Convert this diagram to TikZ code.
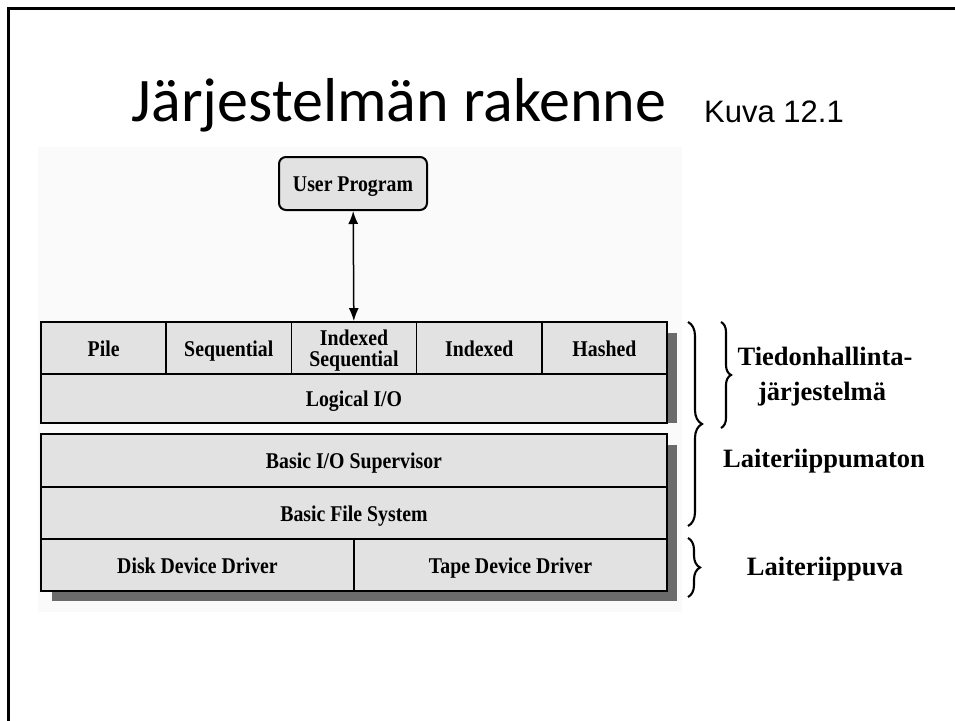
\documentclass[tikz,border=0pt]{standalone}
\usepackage{fontspec}
\setmainfont{Liberation Serif}
\newfontfamily\titlefont{Carlito}
\newfontfamily\kuvafont{Liberation Sans}
\newfontfamily\cellfont{Liberation Serif}[FakeStretch=0.88]
\usetikzlibrary{arrows.meta,decorations.pathreplacing}

\definecolor{boxgray}{HTML}{E2E2E2}
\definecolor{shadowgray}{HTML}{6B6B6B}

\tikzset{
  cell/.style={draw=black, line width=1.7pt, fill=boxgray, inner sep=0pt,
    minimum height=#1, align=center, text height=18pt, text depth=2pt,
    font=\cellfont\bfseries\fontsize{22.5}{21}\selectfont},
  userbox/.style={cell=53pt, minimum width=148pt, rounded corners=7pt, line width=2pt},
  brace/.style={decorate, decoration={brace, amplitude=#1}, line width=2.1pt},
  sidelabel/.style={anchor=base, font=\bfseries\fontsize{26.5}{28}\selectfont}
}

\begin{document}
\begin{tikzpicture}[x=1pt,y=-1pt]
\useasboundingbox (0,0) rectangle (955,720);
% slide frame
\draw[line width=3pt] (8.5,730) -- (8.5,8.5) -- (965,8.5);
\fill[black!2] (38,147) rectangle (682,612);

\node[anchor=base, font=\titlefont\fontsize{62}{62}\selectfont] (title) at (399,121) {Järjestelmän rakenne};
\node[anchor=base, font=\kuvafont\fontsize{31}{31}\selectfont] (kuva) at (774,122) {Kuva 12.1};

\node[userbox] (user) at (353,183.5) {User Program};

% shadows
\fill[shadowgray] (52,333) rectangle (677,423);
\fill[shadowgray] (52,445) rectangle (677,601);

% file management
\node[cell=52pt, minimum width=125.2pt] (pile) at (103.6,348) {Pile};
\node[cell=52pt, minimum width=125.2pt] (seq) at (228.8,348) {Sequential};
\node[cell=52pt, minimum width=125.2pt, text height=38pt, text depth=2pt] (iseq) at (354,348) {Indexed\\Sequential};
\node[cell=52pt, minimum width=125.2pt] (idx) at (479.2,348) {Indexed};
\node[cell=52pt, minimum width=125.2pt] (hash) at (604.4,348) {Hashed};
\node[cell=49pt, minimum width=626pt] (lio) at (354,398.5) {Logical I/O};

% device independent
\node[cell=53pt, minimum width=626pt] (bios) at (354,460.5) {Basic I/O Supervisor};
\node[cell=52pt, minimum width=626pt] (bfs) at (354,513) {Basic File System};

% device drivers
\node[cell=52pt, minimum width=313pt] (disk) at (197.5,565) {Disk Device Driver};
\node[cell=52pt, minimum width=313pt] (tape) at (510.5,565) {Tape Device Driver};

\draw[line width=1.5pt, {Latex[length=13pt,width=10pt]}-{Latex[length=13pt,width=10pt]}] (user) -- (iseq);

% braces
\draw[brace=10pt] (721,322) -- (721,428);
\draw[brace=14pt] (688,322) -- (688,526);
\draw[brace=12pt] (688,538) -- (688,597);

\node[sidelabel] (tied) at (825,365) {Tiedonhallinta-};
\node[sidelabel] (jarj) at (822,400) {järjestelmä};
\node[sidelabel] (indep) at (824,467) {Laiteriippumaton};
\node[sidelabel] (dep) at (825,575) {Laiteriippuva};
\end{tikzpicture}
\end{document}
